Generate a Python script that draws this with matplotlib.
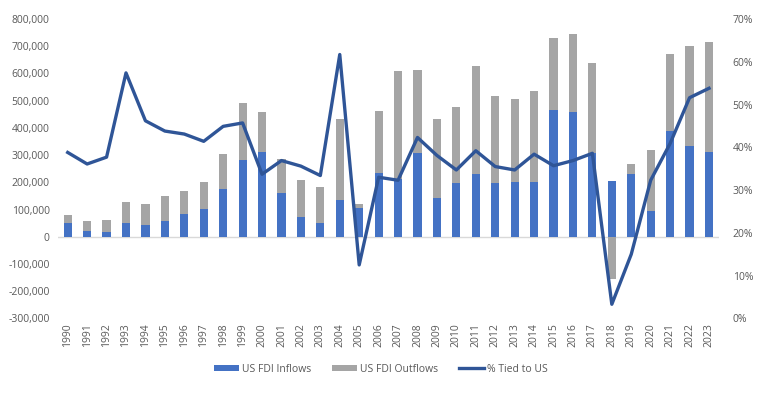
import numpy as np
import matplotlib
matplotlib.use('Agg')
import matplotlib.pyplot as plt
import matplotlib.ticker as ticker

plt.rcParams['font.family'] = ['Open Sans', 'DejaVu Sans']

# === Data ===
years = list(range(1990, 2024))
inflows = [49, 22, 18, 51, 44, 59, 85, 103, 174, 283, 313,
           159, 74, 51, 135, 104, 236, 211, 307, 143, 199,
           232, 199, 201, 201, 467, 460, 309, 204, 232, 93,
           389, 335, 310]
totals = [80, 57, 61, 129, 119, 150, 169, 200, 305, 493, 457,
          285, 208, 182, 432, 120, 461, 609, 614, 433, 476,
          628, 517, 505, 536, 732, 744, 637, None, 266, 318,
          670, 699, 716]
outflow_2018 = -155
pct_tied = [38.8, 36.1, 37.7, 57.4, 46.2, 43.8, 43.1, 41.4, 44.9, 45.7, 33.7,
            36.9, 35.6, 33.4, 61.7, 12.5, 33.0, 32.3, 42.3, 38.1, 34.7,
            39.2, 35.5, 34.7, 38.4, 35.7, 36.9, 38.6, 3.3, 15.0, 32.3,
            40.9, 51.6, 53.8]

inflows = np.array(inflows) * 1000
outflows = np.array([(t - i / 1000) * 1000 if t is not None else outflow_2018 * 1000
                     for t, i in zip(totals, inflows)])
pct = np.array(pct_tied) / 100

blue = '#4472C4'
grey = '#A5A5A5'
line_col = '#2F5597'
text_col = '#595959'

# === Plot ===
fig = plt.figure(figsize=(7.69, 3.96), dpi=100)
ax = fig.add_axes([0.0754, 0.196, 0.8592, 0.756])
x = np.arange(len(years))
w = 0.42
bottoms = np.where(outflows >= 0, inflows, 0)
ax.bar(x, inflows, w, color=blue, label='US FDI Inflows', zorder=2)
ax.bar(x, outflows, w, bottom=bottoms, color=grey, label='US FDI Outflows', zorder=2)

ax.set_ylim(-300000, 800000)
ax.set_xlim(-0.5, len(years) - 0.5)
ax.yaxis.set_major_locator(ticker.MultipleLocator(100000))
ax.yaxis.set_major_formatter(ticker.FuncFormatter(lambda v, p: f'{v:,.0f}'))
ax.axhline(0, color='#D9D9D9', linewidth=1, zorder=1)
ax.set_xticks(x)
ax.set_xticklabels([str(y) for y in years], rotation=90)
for s in ax.spines.values():
    s.set_visible(False)
ax.tick_params(axis='both', length=0, labelsize=7.5, colors=text_col)
ax.tick_params(axis='y', pad=6)

ax2 = ax.twinx()
ax2.plot(x, pct, color=line_col, linewidth=2.4, label='% Tied to US', zorder=3)
ax2.set_ylim(0, 0.7)
ax2.yaxis.set_major_locator(ticker.MultipleLocator(0.1))
ax2.yaxis.set_major_formatter(ticker.PercentFormatter(1.0, decimals=0))
for s in ax2.spines.values():
    s.set_visible(False)
ax2.tick_params(axis='y', length=0, labelsize=7.5, colors=text_col, pad=10)

h1, l1 = ax.get_legend_handles_labels()
h2, l2 = ax2.get_legend_handles_labels()
leg = fig.legend(h1 + h2, l1 + l2, loc='center', bbox_to_anchor=(0.495, 0.068), ncol=3,
                 frameon=False, fontsize=7.5, handlelength=2.4, handleheight=0.6,
                 columnspacing=2.0, handletextpad=0.3)
for t in leg.get_texts():
    t.set_color(text_col)

plt.savefig('out.png', dpi=100)
